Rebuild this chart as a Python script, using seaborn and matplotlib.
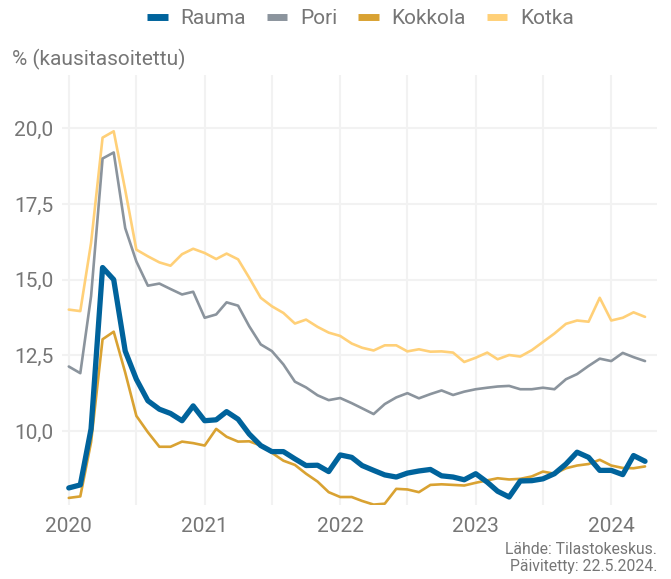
import pandas as pd
import matplotlib.pyplot as plt
import matplotlib.dates as mdates
from matplotlib.lines import Line2D
from matplotlib.ticker import FuncFormatter, FixedLocator
import seaborn as sns

# Monthly unemployment rate (seasonally adjusted), Jan 2020 - Apr 2024
months = pd.date_range("2020-01-01", periods=52, freq="MS")

rauma = [8.12, 8.22, 10.07, 15.40, 15.00, 12.64, 11.71, 11.00, 10.72, 10.58, 10.34, 10.83,
         10.34, 10.37, 10.64, 10.39, 9.90, 9.52, 9.32, 9.32, 9.08, 8.86, 8.87, 8.66,
         9.21, 9.13, 8.86, 8.70, 8.55, 8.48, 8.61, 8.68, 8.73, 8.52, 8.48, 8.39,
         8.59, 8.31, 8.01, 7.82, 8.35, 8.36, 8.42, 8.59, 8.91, 9.30, 9.13, 8.70,
         8.70, 8.56, 9.19, 9.00]
pori = [12.13, 11.91, 14.45, 19.00, 19.20, 16.70, 15.60, 14.80, 14.87, 14.69, 14.51, 14.60,
        13.74, 13.85, 14.25, 14.14, 13.46, 12.86, 12.64, 12.20, 11.63, 11.44, 11.18, 11.02,
        11.09, 10.92, 10.75, 10.56, 10.89, 11.11, 11.25, 11.08, 11.22, 11.34, 11.19, 11.30,
        11.38, 11.43, 11.47, 11.49, 11.38, 11.38, 11.43, 11.38, 11.71, 11.88, 12.15, 12.39,
        12.31, 12.58, 12.44, 12.31]
kokkola = [7.79, 7.84, 9.63, 13.03, 13.28, 11.93, 10.50, 9.96, 9.48, 9.48, 9.65, 9.60,
           9.52, 10.07, 9.81, 9.65, 9.66, 9.52, 9.28, 9.02, 8.88, 8.59, 8.33, 7.98,
           7.82, 7.82, 7.69, 7.57, 7.60, 8.09, 8.07, 7.98, 8.22, 8.24, 8.22, 8.20,
           8.29, 8.37, 8.44, 8.40, 8.42, 8.50, 8.66, 8.59, 8.77, 8.86, 8.91, 9.05,
           8.86, 8.78, 8.77, 8.83]
kotka = [14.01, 13.96, 16.21, 19.69, 19.90, 17.96, 15.99, 15.77, 15.57, 15.46, 15.84, 16.02,
         15.88, 15.68, 15.86, 15.67, 15.06, 14.40, 14.12, 13.90, 13.55, 13.68, 13.44, 13.25,
         13.14, 12.89, 12.75, 12.66, 12.83, 12.83, 12.63, 12.70, 12.62, 12.63, 12.59, 12.28,
         12.42, 12.59, 12.37, 12.51, 12.46, 12.67, 12.94, 13.22, 13.54, 13.65, 13.61, 14.40,
         13.65, 13.74, 13.92, 13.77]

cities = ["Rauma", "Pori", "Kokkola", "Kotka"]
colors = {"Rauma": "#00639c", "Pori": "#8b949d", "Kokkola": "#d9a232", "Kotka": "#ffd078"}
widths = {"Rauma": 3.8, "Pori": 1.9, "Kokkola": 1.9, "Kotka": 1.9}

df = pd.DataFrame({"Kuukausi": months, "Rauma": rauma, "Pori": pori,
                   "Kokkola": kokkola, "Kotka": kotka})
long_df = df.melt(id_vars="Kuukausi", var_name="Kaupunki", value_name="Työttömyysaste")

sns.set_theme(style="white")
plt.rcParams["font.family"] = ["Roboto", "DejaVu Sans"]

fig = plt.figure(figsize=(6.71, 5.79), dpi=100)
ax = fig.add_axes([0.092, 0.128, 0.887, 0.742])

# draw in reverse so Rauma is on top
for city in cities[::-1]:
    sns.lineplot(data=long_df[long_df["Kaupunki"] == city], x="Kuukausi", y="Työttömyysaste",
                 color=colors[city], linewidth=widths[city], ax=ax, legend=False)

ax.set_xlim(pd.Timestamp("2019-12-13"), pd.Timestamp("2024-05-03"))
ax.set_ylim(7.56, 21.75)

ax.xaxis.set_major_locator(mdates.YearLocator())
ax.xaxis.set_major_formatter(mdates.DateFormatter("%Y"))
ax.xaxis.set_minor_locator(mdates.MonthLocator(bymonth=7))
ax.yaxis.set_major_locator(FixedLocator([10, 12.5, 15, 17.5, 20]))
ax.yaxis.set_major_formatter(FuncFormatter(lambda v, p: f"{v:.1f}".replace(".", ",")))

ax.grid(True, which="both", axis="x", color="#f2f2f2", linewidth=1.5)
ax.grid(True, which="major", axis="y", color="#f2f2f2", linewidth=1.5)
ax.set_axisbelow(True)
for s in ax.spines.values():
    s.set_visible(False)
ax.tick_params(axis="both", which="both", length=0, labelsize=15, colors="#767676")
ax.tick_params(axis="x", pad=9)
ax.tick_params(axis="y", pad=6)
ax.set_xlabel("")
ax.set_ylabel("")

fig.text(0.018, 0.898, "% (kausitasoitettu)", fontsize=15, color="#767676",
         ha="left", va="center")

handles = [Line2D([0], [0], color=colors[c], linewidth=5, solid_capstyle="butt") for c in cities]
fig.legend(handles, cities, loc="center", bbox_to_anchor=(0.537, 0.968), ncol=4, frameon=False,
           fontsize=15, labelcolor="#767676", handlelength=1.0, handletextpad=0.6,
           columnspacing=1.0)

fig.text(0.979, 0.009, "Lähde: Tilastokeskus.\nPäivitetty: 22.5.2024.", fontsize=11.3,
         color="#767676", ha="right", va="bottom", linespacing=1.15)

fig.savefig("out.png", dpi=100)
